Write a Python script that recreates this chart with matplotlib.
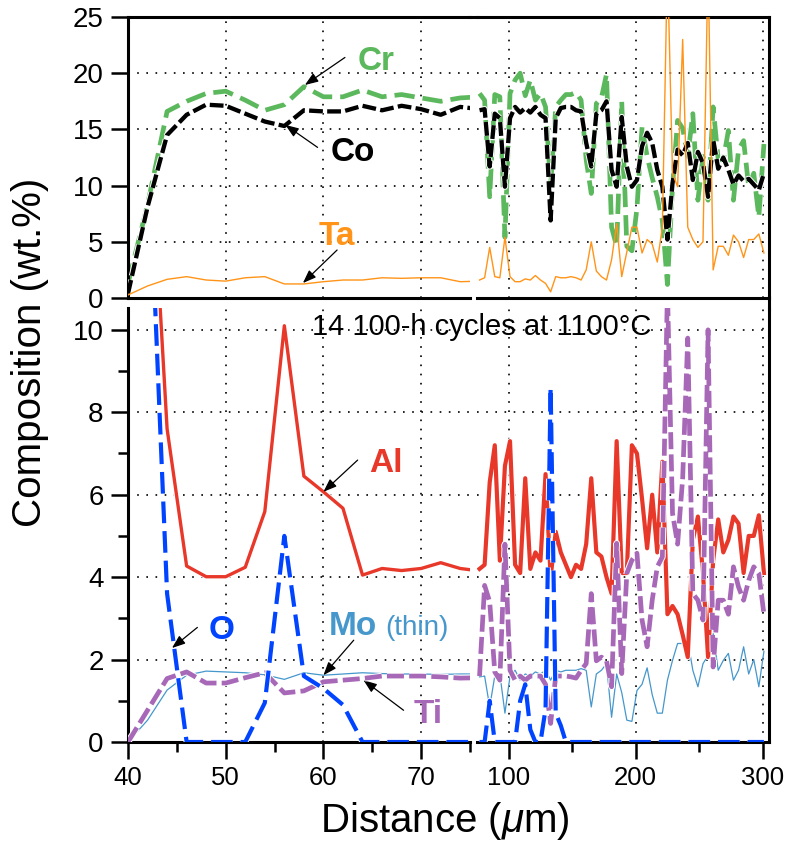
import numpy as np
import matplotlib.pyplot as plt
import matplotlib.patheffects as pe
from matplotlib.ticker import MultipleLocator
from matplotlib.lines import Line2D

plt.rcParams['font.family'] = 'Liberation Sans'
plt.rcParams['mathtext.fontset'] = 'custom'
plt.rcParams['mathtext.rm'] = 'Liberation Sans'
plt.rcParams['mathtext.it'] = 'Liberation Sans:italic'
plt.rcParams['axes.linewidth'] = 2.2

# ---- left part of the profile (40-76 um, 2 um steps)
x_left = [40, 42, 44, 46, 48, 50, 52, 54, 56, 58, 60, 62, 64, 66, 68, 70, 72, 74, 76]
cr_left = [1.3, 8.3, 16.6, 17.5, 18.2, 18.4, 17.6, 16.7, 17.2, 18.8, 17.9, 17.9, 18.5, 17.9, 18.1, 17.8, 17.5, 17.8, 17.9]
co_left = [0.4, 8.1, 14.5, 16.3, 17.2, 17.1, 16.4, 15.7, 15.3, 16.7, 16.6, 16.6, 17.1, 16.7, 17.1, 16.8, 16.3, 17.0, 16.8]
ta_left = [0.27, 1.07, 1.66, 1.9, 1.6, 1.5, 1.8, 1.9, 1.25, 1.25, 1.45, 1.6, 1.6, 1.8, 1.75, 1.8, 1.8, 1.45, 1.5]
al_left = [20.0, 15.9, 7.6, 4.27, 4.01, 4.01, 4.24, 5.59, 10.1, 6.45, 6.07, 5.67, 4.05, 4.21, 4.16, 4.21, 4.35, 4.21, 4.15]
o_left = [30.0, 15.0, 3.6, 0, 0, 0, 0, 0.95, 5.0, 1.6, 1.3, 0.9, 0, 0, 0, 0, 0, 0, 0]
mo_left = [0, 0.53, 1.26, 1.62, 1.72, 1.70, 1.68, 1.63, 1.52, 1.68, 1.62, 1.65, 1.68, 1.66, 1.65, 1.65, 1.64, 1.65, 1.65]
ti_left = [0, 0.77, 1.54, 1.70, 1.43, 1.43, 1.56, 1.68, 1.19, 1.24, 1.46, 1.50, 1.54, 1.60, 1.60, 1.60, 1.58, 1.55, 1.56]

# ---- right part of the profile (77-301 um, 4 um steps)
x_right = np.arange(77, 302, 4)
cr_right = [18.2, 17.6, 9.0, 18.1, 17.9, 5.4, 18.2, 19.4, 20.0, 18.0, 19.4, 17.6, 18.2, 17.0, 10.0,
            17.0, 17.6, 18.1, 18.1, 18.3, 17.6, 12.3, 9.3, 17.3, 17.8, 19.9, 6.3, 4.6, 17.5, 4.6,
            4.2, 8.0, 15.2, 12.6, 10.7, 9.0, 6.9, 1.2, 9.9, 15.8, 15.1, 12.6, 16.4, 8.7, 12.6,
            8.7, 17.0, 12.3, 12.3, 14.9, 8.7, 13.2, 14.0, 9.9, 11.1, 7.2, 13.7]
co_right = [16.7, 16.8, 11.7, 16.4, 16.0, 9.9, 16.0, 17.0, 16.5, 16.9, 16.5, 17.0, 16.3, 16.0, 6.9,
            16.0, 16.9, 17.0, 17.0, 16.7, 16.6, 13.8, 11.7, 16.4, 16.7, 17.5, 11.4, 9.9, 16.1, 11.7,
            9.9, 10.5, 13.5, 14.7, 13.8, 11.4, 9.9, 5.2, 10.2, 13.2, 12.7, 13.8, 10.5, 13.0, 12.0,
            9.0, 14.1, 11.5, 12.5, 11.4, 10.1, 10.9, 10.4, 10.6, 10.1, 9.6, 11.1]
ta_right = [1.6, 1.8, 4.5, 1.9, 1.8, 5.4, 1.9, 1.45, 1.45, 1.7, 1.6, 2.0, 1.6, 1.3, 0.55,
            1.9, 1.8, 1.8, 1.9, 1.8, 1.6, 2.5, 5.0, 2.4, 1.9, 1.6, 3.4, 6.6, 1.9, 4.1,
            6.3, 6.3, 4.0, 5.2, 4.8, 3.2, 6.3, 30.0, 11.1, 9.9, 23.0, 6.3, 5.2, 4.5, 5.0,
            30.0, 2.5, 4.6, 4.6, 3.8, 5.6, 5.0, 3.6, 5.2, 5.2, 5.7, 4.0]
al_right = [4.2, 4.3, 6.3, 7.2, 4.4, 6.7, 7.3, 4.3, 4.1, 6.4, 4.2, 4.6, 4.4, 6.5, 4.0,
            5.1, 4.6, 4.3, 4.0, 4.3, 4.2, 4.8, 6.4, 4.6, 4.5, 4.0, 3.6, 7.3, 4.1, 4.1,
            7.2, 7.0, 5.9, 4.7, 6.0, 4.6, 6.8, 3.1, 3.3, 3.1, 2.6, 2.06, 4.9, 5.47, 4.1,
            2.06, 4.4, 5.4, 4.6, 4.9, 5.47, 5.3, 4.1, 5.0, 5.0, 5.5, 4.1]
o_right = [0, 0, 1.0, 0, 0, 0, 0, 0, 1.0, 1.4, 0.3, 0, 0, 0.8, 8.6,
           0.7, 0.4, 0, 0, 0, 0, 0, 0, 0, 0, 0, 0, 0, 0, 0,
           0, 0, 0, 0, 0, 0, 0, 0, 0, 0, 0, 0, 0, 0, 0,
           0, 0, 0, 0, 0, 0, 0, 0, 0, 0, 0, 0]
mo_right = [1.58, 1.6, 0.85, 1.6, 1.65, 0.7, 1.6, 1.74, 1.5, 1.65, 1.6, 1.7, 1.65, 1.74, 1.5,
            1.74, 1.7, 1.74, 1.74, 1.74, 1.78, 1.74, 0.85, 1.65, 1.74, 1.9, 0.6, 1.65, 1.2, 0.53,
            0.5, 1.25, 1.4, 1.8, 1.15, 0.7, 0.7, 1.5, 1.98, 2.39, 2.39, 2.47, 1.74, 1.34, 1.9,
            2.1, 2.63, 1.74, 1.98, 2.15, 1.5, 1.74, 2.31, 1.65, 2.0, 1.34, 2.2]
ti_right = [1.6, 3.8, 3.4, 1.7, 1.5, 4.8, 1.74, 1.5, 1.6, 1.5, 1.6, 1.6, 1.6, 1.4, 0.45,
            1.6, 1.6, 1.6, 1.58, 1.55, 1.74, 1.9, 3.6, 1.97, 2.06, 1.97, 1.34, 4.82, 1.66, 4.09,
            4.41, 4.58, 2.96, 2.31, 3.44, 4.25, 4.49, 11.0, 5.55, 4.8, 6.4, 9.8, 3.6, 3.44, 2.96,
            10.0, 1.82, 3.44, 3.44, 3.1, 4.25, 3.76, 3.44, 3.92, 4.25, 4.09, 3.1]

CR = '#5cb85c'
CO = 'black'
TA = '#ff9418'
AL = '#e8382a'
OX = '#0044ff'
MO = '#4597cc'
TI = '#a868b8'

W, H = 791, 843
fig = plt.figure(figsize=(W / 100, H / 100), dpi=100)


def box(l, r, t, b):
    return [l / W, 1 - b / H, (r - l) / W, (b - t) / H]


def edge(lw):
    return [pe.Stroke(linewidth=lw + 1.4, foreground='white'), pe.Normal()]


ax_tl = fig.add_axes(box(128, 470, 17, 298))
ax_tr = fig.add_axes(box(477, 769, 17, 298))
ax_bl = fig.add_axes(box(128, 470, 308, 742))
ax_br = fig.add_axes(box(477, 769, 308, 742))

# top panels: Cr, Co, Ta
for ax, x, cr, co, ta in [(ax_tl, x_left, cr_left, co_left, ta_left),
                          (ax_tr, x_right, cr_right, co_right, ta_right)]:
    ax.plot(x, cr, color=CR, lw=3.4, dashes=(4.3, 1.7), path_effects=edge(3.4), zorder=2)
    ax.plot(x, co, color=CO, lw=3.1, dashes=(3.2, 1.0), path_effects=edge(3.1), zorder=3)
    ax.plot(x, ta, color=TA, lw=1.0, zorder=4)
    ax.set_ylim(0, 25)
    ax.yaxis.set_major_locator(MultipleLocator(5))
    ax.tick_params(axis='x', bottom=False, labelbottom=False)

# bottom panels: Al, O, Mo, Ti
for ax, x, al, o, mo, ti, al_lw in [(ax_bl, x_left, al_left, o_left, mo_left, ti_left, 2.4),
                                    (ax_br, x_right, al_right, o_right, mo_right, ti_right, 3.0)]:
    ax.plot(x, mo, color=MO, lw=0.9, zorder=2)
    ax.plot(x, al, color=AL, lw=al_lw, path_effects=edge(al_lw), zorder=3)
    ax.plot(x, ti, color=TI, lw=3.4, dashes=(3.6, 1.1), path_effects=edge(3.4), zorder=4)
    ax.plot(x, o, color=OX, lw=3.0, dashes=(5.2, 1.9), path_effects=edge(3.0), zorder=5)
    ax.set_ylim(0, 10.53)
    ax.yaxis.set_major_locator(MultipleLocator(2))
    ax.yaxis.set_minor_locator(MultipleLocator(1))

for ax in (ax_tl, ax_bl):
    ax.set_xlim(40, 75)
    ax.xaxis.set_major_locator(MultipleLocator(10))
    ax.xaxis.set_minor_locator(MultipleLocator(5))
    ax.spines['right'].set_visible(False)
for ax in (ax_tr, ax_br):
    ax.set_xlim(75, 305)
    ax.xaxis.set_major_locator(MultipleLocator(100))
    ax.xaxis.set_minor_locator(MultipleLocator(50))
    ax.spines['left'].set_visible(False)
    ax.tick_params(axis='y', which='both', left=False, labelleft=False)
for ax in (ax_bl, ax_br):
    ax.spines['top'].set_visible(False)

for ax in (ax_tl, ax_tr, ax_bl, ax_br):
    ax.tick_params(which='major', direction='out', length=12.5, width=1.8, pad=5)
    ax.tick_params(which='minor', direction='out', length=7, width=1.8)
    ax.tick_params(axis='y', labelsize=20)
    ax.tick_params(axis='x', labelsize=18.5)
    ax.grid(True, which='major', ls=(0, (1, 4.5)), color='k', lw=1.2)
ax_tr.tick_params(axis='x', which='both', bottom=False, labelbottom=False)
ax_tl.tick_params(axis='x', which='both', bottom=False, labelbottom=False)

# bridge the broken frame
fig.add_artist(Line2D([469 / W, 478 / W], [1 - 17 / H, 1 - 17 / H], color='k', lw=2.2))
fig.add_artist(Line2D([769 / W, 769 / W], [1 - 297 / H, 1 - 309 / H], color='k', lw=2.2))

arrow = dict(arrowstyle='-|>,head_length=0.8,head_width=0.3', color='k', lw=0.9,
             shrinkA=0, shrinkB=0)


def label(ax, x, y, s, color, head, tail):
    ax.text(x, y, s, color=color, fontsize=24, fontweight='bold', ha='center', va='baseline')
    ax.annotate('', xy=head, xytext=tail, arrowprops=arrow)


label(ax_tl, 65.4, 20.3, 'Cr', CR, (58.1, 18.95), (62.2, 21.4))
label(ax_tl, 63.0, 12.2, 'Co', CO, (56.1, 15.4), (59.4, 13.4))
label(ax_tl, 61.4, 4.7, 'Ta', TA, (57.9, 1.33), (61.4, 4.27))
label(ax_bl, 66.4, 6.55, 'Al', AL, (60.0, 6.07), (63.5, 6.84))
label(ax_bl, 49.6, 2.49, 'O', OX, (44.5, 2.28), (47.1, 2.78))
label(ax_bl, 63.0, 2.59, 'Mo', MO, (60.0, 1.62), (63.1, 2.47))
label(ax_bl, 70.7, 0.45, 'Ti', TI, (64.1, 1.50), (68.2, 0.77))
ax_bl.text(66.3, 2.59, '(thin)', color=MO, fontsize=20, ha='left', va='baseline')

fig.text(312 / W, 1 - 335 / H, '14 100-h cycles at 1100°C', fontsize=21,
         ha='left', va='baseline')
fig.text(30 / W, 1 - 352 / H, 'Composition (wt.%)', fontsize=29, rotation=90,
         ha='center', va='center')
fig.text(445 / W, 1 - 832 / H, r'Distance ($\mu$m)', fontsize=29,
         ha='center', va='baseline')

fig.savefig('out.png', dpi=100)
